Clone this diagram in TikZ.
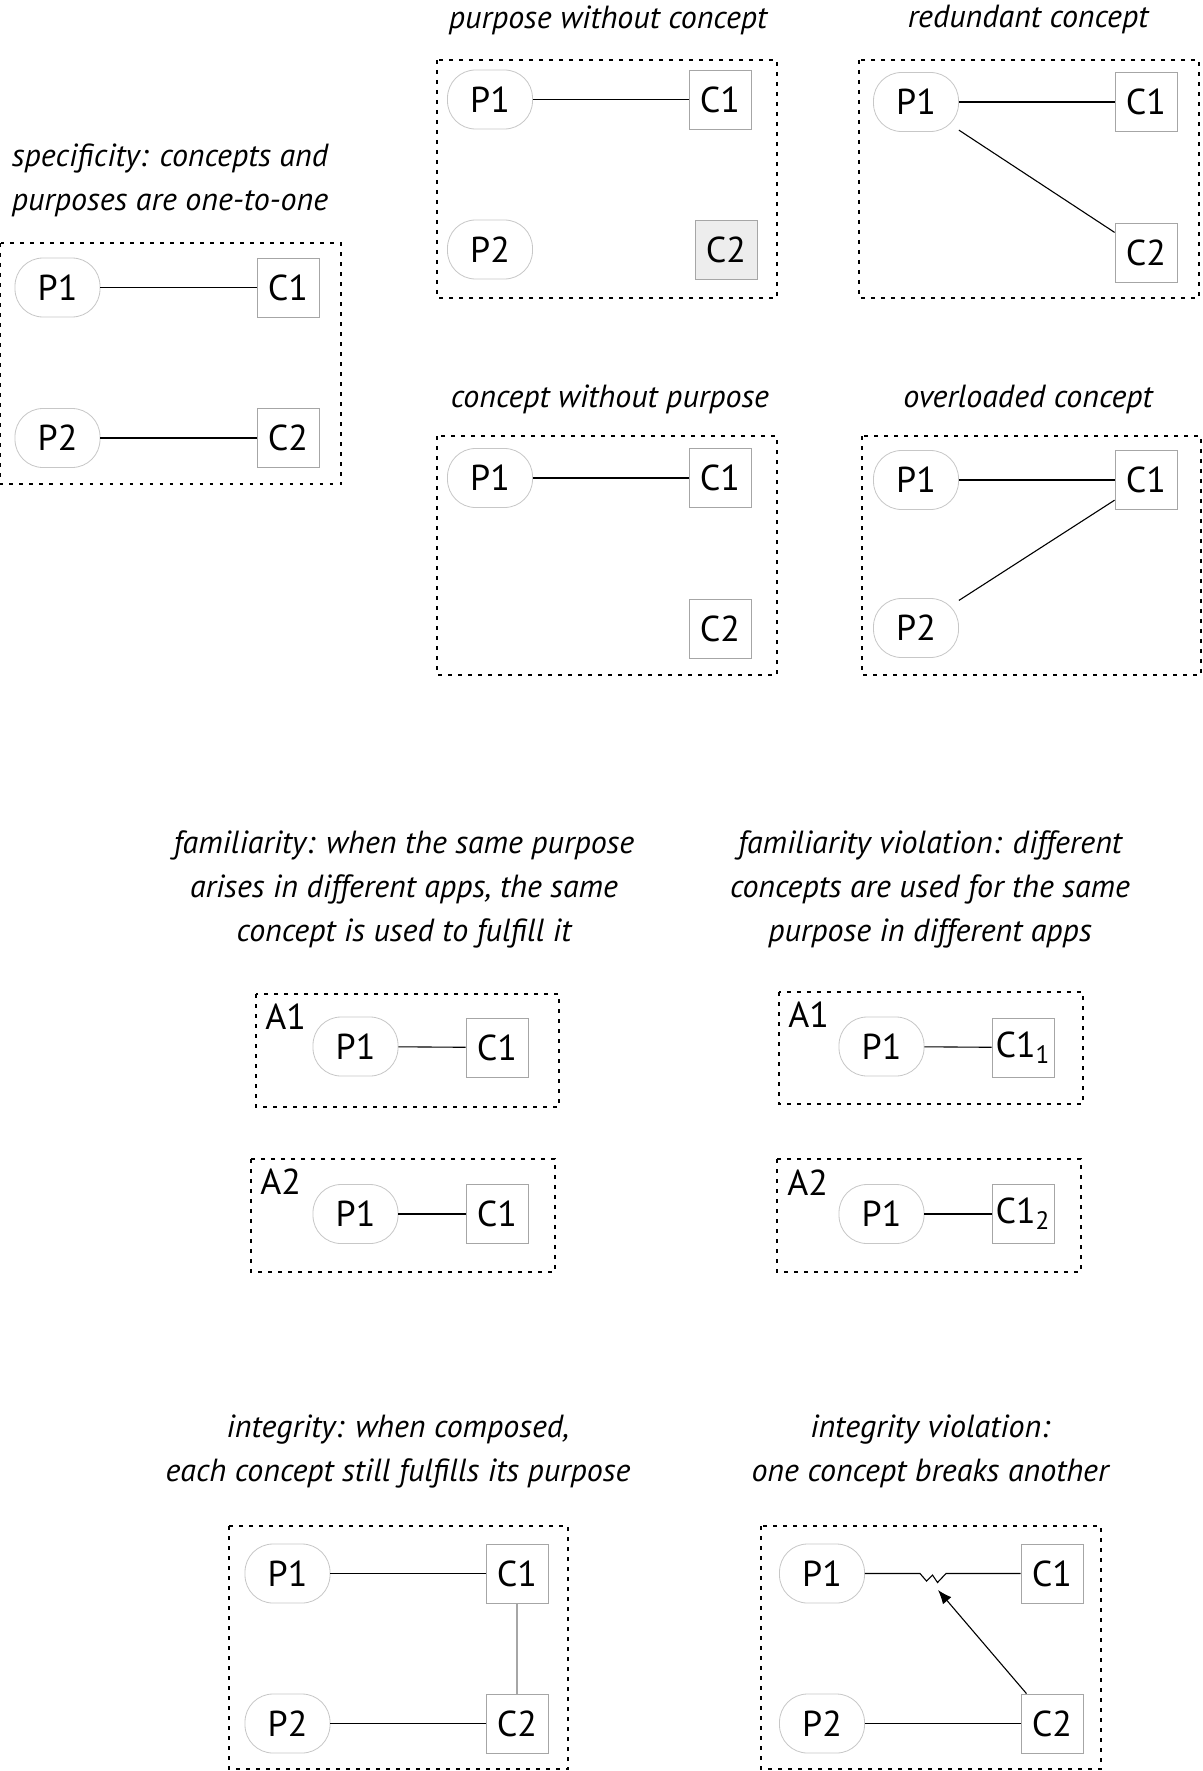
\documentclass[tikz,border=0pt]{standalone}
\usepackage{fontspec}
\setmainfont{PT Sans}
\usetikzlibrary{arrows.meta}

\begin{document}
\begin{tikzpicture}[x=0.5pt,y=-0.5pt,
        purp/.style={draw=black!22, rounded corners=14pt, minimum width=42.5pt,
                     minimum height=29.5pt, inner sep=0pt, font=\fontsize{18}{20}\selectfont},
        conc/.style={draw=black!35, minimum width=31pt, minimum height=29.5pt,
                     inner sep=0pt, font=\fontsize{18}{20}\selectfont},
        appname/.style={anchor=base west, inner sep=0pt, font=\fontsize{18}{20}\selectfont},
        frame/.style={dash pattern=on 1.8pt off 3.2pt, line width=0.6pt},
        link/.style={line width=0.55pt},
        ttl/.style={align=center, inner sep=0pt,
                    font=\itshape\fontsize{16}{22}\selectfont}]
                    \fill[white] (0,0) rectangle (1203,1771);
                    \useasboundingbox (0,0) rectangle (1203,1771);

                    % specificity
                    \node[ttl] (tspec) at(170,180) {specificity: concepts and\\purposes are one-to-one};
                    \draw[frame] (0.5,243) rectangle (341,484);
                    \node[purp] (sP1) at(57.5,287.5) {P1};
                    \node[conc] (sC1) at(288,287.5) {C1};
                    \node[purp] (sP2) at(57.5,438) {P2};
                    \node[conc] (sC2) at(288,438) {C2};
                    \draw[link] (sP1) -- (sC1);
                    \draw[link] (sP2) -- (sC2);

                    % purpose without concept
                    \node[ttl] (twc) at(608,20) {purpose without concept};
                    \draw[frame] (437,60) rectangle (777,298);
                    \node[purp] (wP1) at(490,99.5) {P1};
                    \node[conc] (wC1) at(720,99.5) {C1};
                    \node[purp] (wP2) at(490,249.5) {P2};
                    \node[conc, fill=black!7] (wC2) at(726,249.5) {C2};
                    \draw[link] (wP1) -- (wC1);

                    % redundant concept
                    \node[ttl] (tred) at(1028,20) {redundant concept};
                    \draw[frame] (859,60) rectangle (1199,298);
                    \node[purp] (rP1) at(916,102) {P1};
                    \node[conc] (rC1) at(1146,102) {C1};
                    \node[conc] (rC2) at(1146,253) {C2};
                    \draw[link] (rP1) -- (rC1);
                    \draw[link] (rP1) -- (rC2);

                    % concept without purpose
                    \node[ttl] (tnp) at(610,399) {concept without purpose};
                    \draw[frame] (437,436) rectangle (777,675);
                    \node[purp] (nP1) at(490,478) {P1};
                    \node[conc] (nC1) at(720,478) {C1};
                    \node[conc] (nC2) at(720,628.5) {C2};
                    \draw[link] (nP1) -- (nC1);

                    % overloaded concept
                    \node[ttl] (tov) at(1028,399) {overloaded concept};
                    \draw[frame] (862,436) rectangle (1201,675);
                    \node[purp] (oP1) at(916,480) {P1};
                    \node[conc] (oC1) at(1146,480) {C1};
                    \node[purp] (oP2) at(916,628) {P2};
                    \draw[link] (oP1) -- (oC1);
                    \draw[link] (oP2) -- (oC1);

                    % familiarity
                    \node[ttl] (tfam) at(404,889) {familiarity: when the same purpose\\arises in different apps, the same\\concept is used to fulfill it};
                    \draw[frame] (256,994) rectangle (559,1107);
                    \node[appname] (fA1) at(265,1029) {A1};
                    \node[purp] (fP1) at(355.5,1046.5) {P1};
                    \node[conc] (fC1) at(497,1047.5) {C1};
                    \draw[link] (fP1) -- (fC1);
                    \draw[frame] (251,1159) rectangle (555,1272);
                    \node[appname] (gA2) at(260,1194) {A2};
                    \node[purp] (gP1) at(355.5,1214) {P1};
                    \node[conc] (gC1) at(497,1214) {C1};
                    \draw[link] (gP1) -- (gC1);

                    % familiarity violation
                    \node[ttl] (tfamv) at(930,889) {familiarity violation: different\\concepts are used for the same\\purpose in different apps};
                    \draw[frame] (779,992) rectangle (1083,1104);
                    \node[appname] (vA1) at(788,1027) {A1};
                    \node[purp] (vP1) at(881.5,1046.5) {P1};
                    \node[conc] (vC1) at(1023,1047.5) {C1\textsubscript{1}};
                    \draw[link] (vP1) -- (vC1);
                    \draw[frame] (777,1159) rectangle (1081,1272);
                    \node[appname] (uA2) at(787,1195) {A2};
                    \node[purp] (uP1) at(881.5,1214) {P1};
                    \node[conc] (uC1) at(1023,1214) {C1\textsubscript{2}};
                    \draw[link] (uP1) -- (uC1);

                    % integrity
                    \node[ttl] (tint) at(398,1451) {integrity: when composed,\\each concept still fulfills its purpose};
                    \draw[frame] (229,1526) rectangle (568,1769);
                    \node[purp] (iP1) at(287.5,1573.5) {P1};
                    \node[conc] (iC1) at(517,1573.5) {C1};
                    \node[purp] (iP2) at(287.5,1723.5) {P2};
                    \node[conc] (iC2) at(517,1723.5) {C2};
                    \draw[link] (iP1) -- (iC1);
                    \draw[link] (iP2) -- (iC2);
                    \draw[black!35, line width=0.9pt] (iC1) -- (iC2);

                    % integrity violation
                    \node[ttl] (tintv) at(930,1451) {integrity violation:\\one concept breaks another};
                    \draw[frame] (761,1526) rectangle (1101,1769);
                    \node[purp] (xP1) at(822,1573.5) {P1};
                    \node[conc] (xC1) at(1052,1573.5) {C1};
                    \node[purp] (xP2) at(822,1723.5) {P2};
                    \node[conc] (xC2) at(1052,1723.5) {C2};
                    \coordinate (zz) at(920,1573.5);
                    \coordinate (brk) at(938,1590);
                    \draw[link] (xP1) -- (zz) -- ++(6.5,7.5) -- ++(6,-6) -- ++(5,7.5) -- ++(8.5,-9) -- (xC1);
                    \draw[link] (xP2) -- (xC2);
                    \draw[link, -{Latex[length=7pt,width=5.5pt]}] (xC2) -- (brk);
                \end{tikzpicture}
\end{document}
